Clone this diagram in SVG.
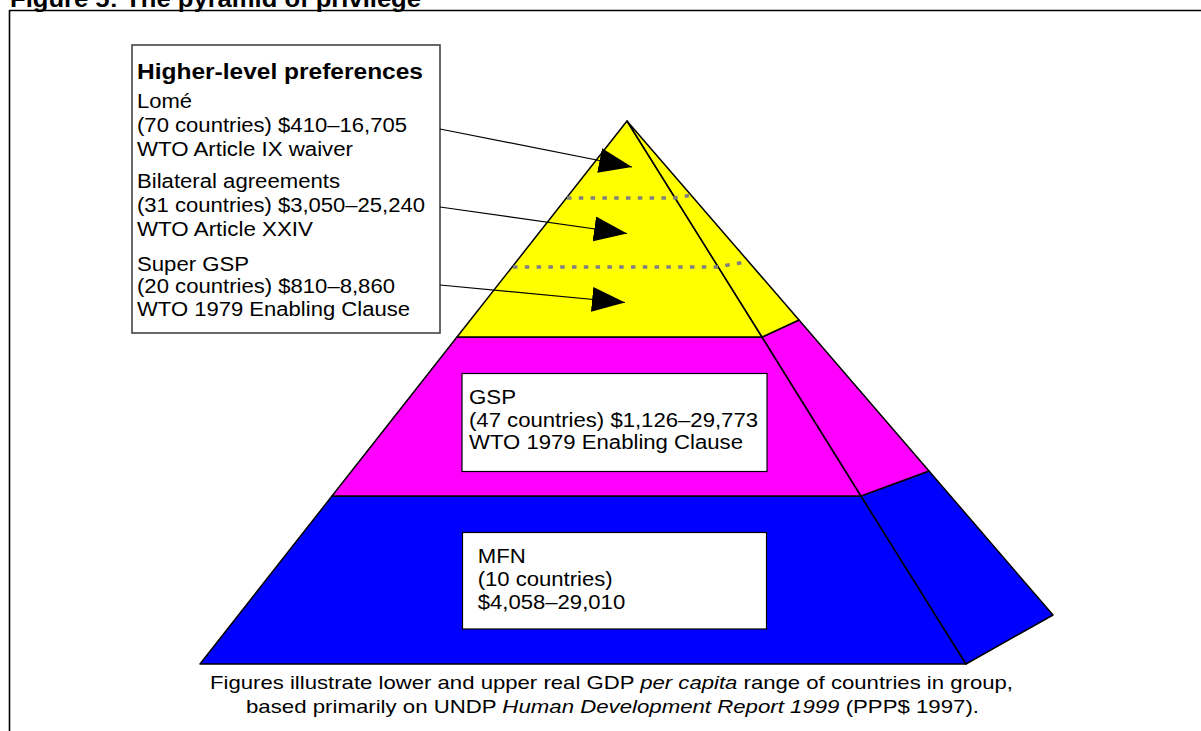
<svg xmlns="http://www.w3.org/2000/svg" width="1201" height="731" viewBox="0 0 1201 731">
  <style>
    .t { font-family: "Liberation Sans", Arial, sans-serif; font-size: 19.5px; fill: #000; }
    .b { font-family: "Liberation Sans", Arial, sans-serif; font-weight: bold; fill: #000; }
    .cap { font-family: "Liberation Sans", Arial, sans-serif; font-size: 19px; fill: #000; }
    .face { stroke: #000; stroke-width: 1.5; stroke-linejoin: round; }
    .dots { fill: none; stroke: #808080; stroke-width: 3.5; stroke-dasharray: 4.5 7.3; }
    .conn { fill: none; stroke: #000; stroke-width: 1.2; }
    .box { fill: #fff; stroke: #000; stroke-width: 1.2; }
  </style>
  <defs>
    <marker id="arrow" markerUnits="userSpaceOnUse" markerWidth="34" markerHeight="26" refX="33" refY="12.5" orient="auto">
      <path d="M0,0 L33,12.5 L0,25 z" fill="#000"/>
    </marker>
  </defs>
  <rect width="1201" height="731" fill="#fff"/>

  <g id="frame">
    <line x1="9" y1="10.5" x2="1201" y2="10.5" stroke="#000" stroke-width="1.6"/>
    <line x1="9.5" y1="10" x2="9.5" y2="731" stroke="#000" stroke-width="1.6"/>
  </g>

  <g id="title">
    <text class="b" x="10" y="6.5" font-size="23" textLength="411" lengthAdjust="spacingAndGlyphs">Figure 5: The pyramid of privilege</text>
  </g>

  <g id="pyramid">
    <polygon id="blue-front" class="face" fill="#0000FF" points="332,496 200,664 966,664 861,496"/>
    <polygon id="blue-side" class="face" fill="#0000FF" points="861,496 966,664 1053,615 929,471"/>
    <polygon id="magenta-front" class="face" fill="#FF00FF" points="457,337 332,496 861,496 762,337"/>
    <polygon id="magenta-side" class="face" fill="#FF00FF" points="762,337 861,496 929,471 799,320"/>
    <polygon id="yellow-front" class="face" fill="#FFFF00" points="627,121 457,337 762,337"/>
    <polygon id="yellow-side" class="face" fill="#FFFF00" points="627,121 762,337 799,320"/>
    <line x1="632" y1="129" x2="762" y2="337" stroke="#000" stroke-width="1"/>
    <polyline class="dots" points="567,198 675,198 689,195.5"/>
    <polyline class="dots" points="513,267 717,267 748,261.5"/>
  </g>

  <g id="box-higher">
    <rect x="132" y="45" width="308" height="288" fill="#fff" stroke="#444" stroke-width="1.6"/>
    <text class="b" x="137" y="79" font-size="22" textLength="286" lengthAdjust="spacingAndGlyphs">Higher-level preferences</text>
    <text class="t" x="137" y="108.3" textLength="55" lengthAdjust="spacingAndGlyphs">Lomé</text>
    <text class="t" x="137" y="131.5" textLength="270" lengthAdjust="spacingAndGlyphs">(70 countries) $410–16,705</text>
    <text class="t" x="137" y="156" textLength="216" lengthAdjust="spacingAndGlyphs">WTO Article IX waiver</text>
    <text class="t" x="137" y="188.3" textLength="203" lengthAdjust="spacingAndGlyphs">Bilateral agreements</text>
    <text class="t" x="137" y="212.3" textLength="288" lengthAdjust="spacingAndGlyphs">(31 countries) $3,050–25,240</text>
    <text class="t" x="137" y="235.7" textLength="176" lengthAdjust="spacingAndGlyphs">WTO Article XXIV</text>
    <text class="t" x="137" y="271" textLength="112" lengthAdjust="spacingAndGlyphs">Super GSP</text>
    <text class="t" x="137" y="292.5" textLength="258" lengthAdjust="spacingAndGlyphs">(20 countries) $810–8,860</text>
    <text class="t" x="137" y="316" textLength="273" lengthAdjust="spacingAndGlyphs">WTO 1979 Enabling Clause</text>
  </g>

  <g id="box-gsp">
    <rect class="box" x="462" y="373.5" width="305" height="98"/>
    <text class="t" x="469" y="404" textLength="47" lengthAdjust="spacingAndGlyphs">GSP</text>
    <text class="t" x="469" y="426.7" textLength="289" lengthAdjust="spacingAndGlyphs">(47 countries) $1,126–29,773</text>
    <text class="t" x="469" y="449.3" textLength="274" lengthAdjust="spacingAndGlyphs">WTO 1979 Enabling Clause</text>
  </g>

  <g id="box-mfn">
    <rect class="box" x="462.5" y="532.5" width="304" height="96.5"/>
    <text class="t" x="477.7" y="562.7" textLength="48" lengthAdjust="spacingAndGlyphs">MFN</text>
    <text class="t" x="477.7" y="585.7" textLength="135" lengthAdjust="spacingAndGlyphs">(10 countries)</text>
    <text class="t" x="477.7" y="609.3" textLength="147.5" lengthAdjust="spacingAndGlyphs">$4,058–29,010</text>
  </g>

  <g id="connectors">
    <line class="conn" x1="440" y1="129" x2="632" y2="167" marker-end="url(#arrow)"/>
    <line class="conn" x1="440" y1="207" x2="627" y2="233.5" marker-end="url(#arrow)"/>
    <line class="conn" x1="440" y1="285" x2="625" y2="302.5" marker-end="url(#arrow)"/>
  </g>

  <g id="caption">
    <text class="cap" x="611.5" y="689.3" text-anchor="middle" textLength="803" lengthAdjust="spacingAndGlyphs">Figures illustrate lower and upper real GDP <tspan font-style="italic">per capita</tspan> range of countries in group,</text>
    <text class="cap" x="612.5" y="712.7" text-anchor="middle" textLength="733" lengthAdjust="spacingAndGlyphs">based primarily on UNDP <tspan font-style="italic">Human Development Report 1999</tspan> (PPP$ 1997).</text>
  </g>
</svg>
